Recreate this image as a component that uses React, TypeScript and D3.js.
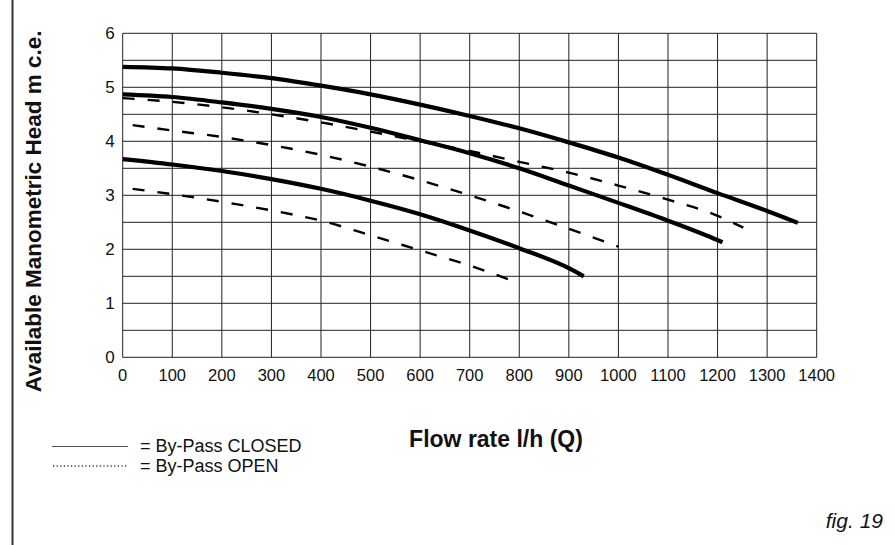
import React, { useRef, useEffect } from 'react';
import * as d3 from 'd3';

// flow rate ticks (l/h) and head ticks (m c.e.)
const xTicks = [0, 100, 200, 300, 400, 500, 600, 700, 800, 900, 1000, 1100, 1200, 1300, 1400];
const yTicks = [0, 1, 2, 3, 4, 5, 6];
const yGrid = [0, 0.5, 1, 1.5, 2, 2.5, 3, 3.5, 4, 4.5, 5, 5.5, 6];

// By-Pass CLOSED curves (solid)
const closedHigh = [
  [0, 5.38], [100, 5.35], [200, 5.27], [300, 5.17], [400, 5.03], [500, 4.87], [600, 4.68],
  [700, 4.47], [800, 4.24], [900, 3.98], [1000, 3.7], [1100, 3.38], [1200, 3.04], [1300, 2.71], [1362, 2.49],
];
const closedMid = [
  [0, 4.87], [100, 4.82], [200, 4.72], [300, 4.6], [400, 4.45], [500, 4.25], [600, 4.02],
  [700, 3.78], [800, 3.5], [900, 3.18], [1000, 2.86], [1100, 2.53], [1200, 2.17], [1210, 2.13],
];
const closedLow = [
  [0, 3.67], [100, 3.57], [200, 3.45], [300, 3.3], [400, 3.12], [500, 2.9], [600, 2.65],
  [700, 2.35], [800, 2.02], [900, 1.65], [930, 1.5],
];

// By-Pass OPEN curves (dashed)
const openHigh = [
  [0, 4.8], [100, 4.73], [200, 4.63], [300, 4.5], [400, 4.35], [500, 4.18], [600, 4.0],
  [700, 3.82], [800, 3.62], [900, 3.42], [1000, 3.18], [1100, 2.92], [1200, 2.62], [1252, 2.4],
];
const openMid = [
  [20, 4.3], [100, 4.2], [200, 4.08], [300, 3.93], [400, 3.75], [500, 3.53], [600, 3.28],
  [700, 3.0], [800, 2.7], [900, 2.38], [1000, 2.05],
];
const openLow = [
  [20, 3.12], [100, 3.02], [200, 2.88], [300, 2.72], [400, 2.53], [500, 2.26], [600, 1.98],
  [700, 1.7], [800, 1.37],
];

const closedCurves = [closedHigh, closedMid, closedLow];
const openCurves = [openHigh, openMid, openLow];

const FONT = '"Liberation Sans", Arial, Helvetica, sans-serif';

const App = () => {
  const svgRef = useRef(null);

  useEffect(() => {
    const svg = d3.select(svgRef.current);
    svg.selectAll('*').remove();

    const x = d3.scaleLinear().domain([0, 1400]).range([122.7, 816.7]);
    const y = d3.scaleLinear().domain([0, 6]).range([357.3, 33.3]);

    // page frame line on the left
    svg.append('line')
      .attr('x1', 12.5).attr('x2', 12.5)
      .attr('y1', 0).attr('y2', 545)
      .attr('stroke', '#333')
      .attr('stroke-width', 2);

    // grid
    const grid = svg.append('g');
    grid.selectAll('.vg')
      .data(xTicks)
      .enter()
      .append('line')
      .attr('x1', d => x(d)).attr('x2', d => x(d))
      .attr('y1', y(0)).attr('y2', y(6))
      .attr('stroke', '#222')
      .attr('stroke-width', 1);
    grid.selectAll('.hg')
      .data(yGrid)
      .enter()
      .append('line')
      .attr('x1', x(0)).attr('x2', x(1400))
      .attr('y1', d => y(d)).attr('y2', d => y(d))
      .attr('stroke', '#222')
      .attr('stroke-width', 1);

    // tick labels
    svg.append('g')
      .selectAll('text')
      .data(xTicks)
      .enter()
      .append('text')
      .attr('x', d => x(d))
      .attr('y', y(0) + 24)
      .attr('text-anchor', 'middle')
      .attr('font-family', FONT)
      .attr('font-size', 16.5)
      .attr('fill', '#111')
      .text(d => d);

    svg.append('g')
      .selectAll('text')
      .data(yTicks)
      .enter()
      .append('text')
      .attr('x', x(0) - 8)
      .attr('y', d => y(d))
      .attr('dy', '0.36em')
      .attr('text-anchor', 'end')
      .attr('font-family', FONT)
      .attr('font-size', 17)
      .attr('fill', '#111')
      .text(d => d);

    // curves
    const line = d3.line()
      .x(d => x(d[0]))
      .y(d => y(d[1]))
      .curve(d3.curveMonotoneX);

    svg.append('g')
      .selectAll('path')
      .data(closedCurves)
      .enter()
      .append('path')
      .attr('d', d => line(d))
      .attr('fill', 'none')
      .attr('stroke', '#000')
      .attr('stroke-width', 4.2)
      .attr('stroke-linecap', 'butt');

    svg.append('g')
      .selectAll('path')
      .data(openCurves)
      .enter()
      .append('path')
      .attr('d', d => line(d))
      .attr('fill', 'none')
      .attr('stroke', '#000')
      .attr('stroke-width', 2.4)
      .attr('stroke-dasharray', '12,13');

    // axis titles
    svg.append('text')
      .attr('transform', `translate(41, ${(y(0) + y(6)) / 2 + 16}) rotate(-90)`)
      .attr('text-anchor', 'middle')
      .attr('font-family', FONT)
      .attr('font-weight', 'bold')
      .attr('font-size', 22.5)
      .attr('fill', '#111')
      .text('Available Manometric Head m c.e.');

    svg.append('text')
      .attr('x', 496)
      .attr('y', 447)
      .attr('text-anchor', 'middle')
      .attr('font-family', FONT)
      .attr('font-weight', 'bold')
      .attr('font-size', 23)
      .attr('fill', '#111')
      .text('Flow rate l/h (Q)');

    // legend
    svg.append('line')
      .attr('x1', 52).attr('x2', 128)
      .attr('y1', 446.5).attr('y2', 446.5)
      .attr('stroke', '#555')
      .attr('stroke-width', 1);
    svg.append('line')
      .attr('x1', 53).attr('x2', 128)
      .attr('y1', 466).attr('y2', 466)
      .attr('stroke', '#333')
      .attr('stroke-width', 1.3)
      .attr('stroke-dasharray', '1.2,2.4');

    svg.append('text')
      .attr('x', 140).attr('y', 452)
      .attr('font-family', FONT)
      .attr('font-size', 18)
      .attr('fill', '#111')
      .text('= By-Pass CLOSED');
    svg.append('text')
      .attr('x', 140).attr('y', 472)
      .attr('font-family', FONT)
      .attr('font-size', 18)
      .attr('fill', '#111')
      .text('= By-Pass OPEN');

    svg.append('text')
      .attr('x', 883).attr('y', 528)
      .attr('text-anchor', 'end')
      .attr('font-family', FONT)
      .attr('font-style', 'italic')
      .attr('font-size', 21)
      .attr('fill', '#111')
      .text('fig. 19');
  }, []);

  return (
    <svg ref={svgRef} width={895} height={545}
      style={{ position: 'absolute', left: 0, top: 0, background: '#fff' }}></svg>
  );
};

export default App;
